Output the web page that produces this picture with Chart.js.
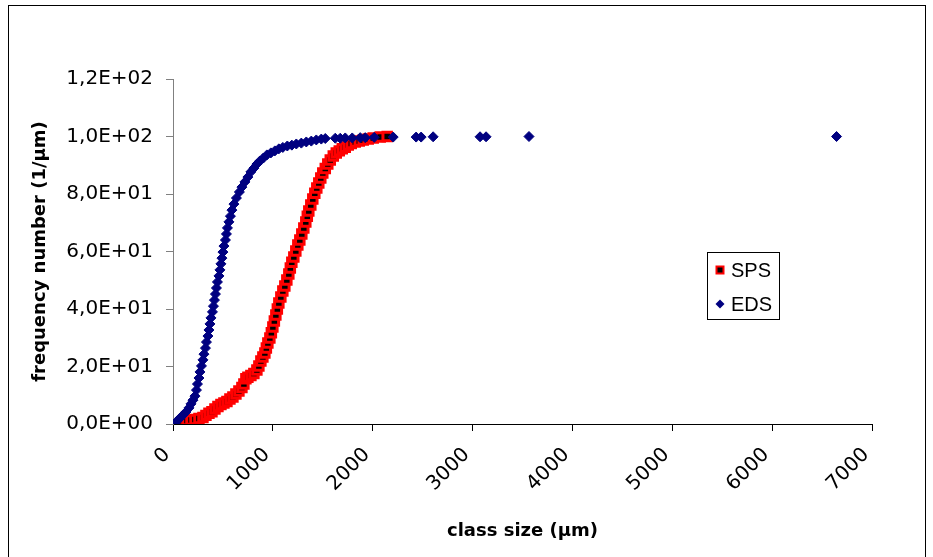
<!DOCTYPE html>
<html>
<head>
<meta charset="utf-8">
<script src="https://cdn.jsdelivr.net/npm/chart.js@4.4.1/dist/chart.umd.min.js"></script>
<style>
  html, body { margin: 0; padding: 0; background: #fff; }
  canvas { display: block; }
</style>
</head>
<body>
<canvas id="classSizeChart" width="933" height="557"></canvas>
<script>
// cumulative frequency
const spsX = [100, 140, 180, 220, 260, 300, 330, 360, 390, 420, 450, 480, 510, 540, 570, 600,
  630, 660, 690, 710, 730, 750, 780, 810, 840, 860, 880, 900, 920, 935, 950, 970, 985, 1000,
  1015, 1030, 1045, 1060, 1080, 1100, 1120, 1140, 1160, 1175, 1190, 1210, 1230, 1250, 1270,
  1290, 1310, 1330, 1345, 1360, 1380, 1400, 1420, 1440, 1460, 1480, 1500, 1525, 1550, 1575,
  1605, 1635, 1665, 1695, 1725, 1755, 1785, 1825, 1865, 1905, 1955, 2005, 2075, 2145];
const spsY = [1.0, 1.2, 1.4, 1.6, 1.9, 2.3, 3.0, 3.7, 4.3, 5.2, 6.1, 6.8, 7.3, 7.8, 8.7, 9.4,
  10.4, 11.5, 12.7, 13.9, 15.7, 16.3, 16.9, 17.6, 18.8, 20.2, 21.9, 23.3, 24.7, 26.4, 28.2, 29.9, 31.7, 33.7,
  35.8, 37.9, 40.0, 42.1, 44.2, 46.3, 48.0, 50.1, 52.2, 54.3, 56.3, 58.1, 60.2, 62.3, 64.0,
  66.1, 68.2, 70.3, 72.3, 74.1, 76.2, 78.3, 80.3, 82.1, 83.8, 85.6, 87.3, 88.9, 90.4, 91.8,
  93.2, 94.3, 95.0, 95.7, 96.3, 97.0, 97.6, 98.1, 98.4, 98.8, 99.1, 99.5, 99.8, 100];

const edsX = [10, 40, 70, 100, 130, 160, 180, 200, 220, 235, 245, 260, 270, 285, 300, 310, 325,
  335, 350, 360, 370, 380, 395, 405, 415, 425, 435, 445, 460, 470, 480, 490, 500, 510, 525,
  535, 545, 560, 575, 590, 610, 635, 665, 690, 720, 750, 780, 810, 840, 870, 905, 940, 980,
  1020, 1060, 1100, 1145, 1190, 1235, 1285, 1335, 1385, 1435, 1485, 1525,
  1625, 1675, 1725, 1795, 1875, 1925, 2015, 2205, 2435, 2485, 2605, 3075, 3135, 3565, 6645];
const edsY = [0, 1.0, 2.1, 3.1, 4.2, 5.6, 7.0, 8.3, 9.7, 11.8, 13.9, 16.0, 18.1, 20.2, 22.3, 24.3, 26.4,
  28.5, 30.6, 32.7, 34.8, 36.9, 39.0, 41.0, 43.1, 45.2, 47.3, 49.4, 51.5, 53.6, 55.7, 57.7, 59.8, 61.9, 64.0,
  66.1, 68.2, 70.3, 72.3, 74.4, 76.5, 78.6, 80.7, 82.4, 84.2, 85.9, 87.7, 89.0, 90.4, 91.5, 92.5, 93.6, 94.3,
  95.0, 95.7, 96.2, 96.7, 97.0, 97.4, 97.7, 98.1, 98.4, 98.8, 99.1, 99.3,
  99.4, 99.4, 99.5, 99.5, 99.6, 99.6, 99.7, 99.8, 99.8, 99.8, 99.9, 99.9, 99.9, 100, 100];

const xTicks = [0, 1000, 2000, 3000, 4000, 5000, 6000, 7000];
const yTicks = [0, 20, 40, 60, 80, 100, 120];

const toPoints = (xs, ys) => xs.map((x, i) => ({ x: x, y: ys[i] }));

// Excel style "1,2E+02"
function sciLabel(v) {
  if (v === 0) return '0,0E+00';
  const e = Math.floor(Math.log10(v) + 1e-9);
  const m = v / Math.pow(10, e);
  return m.toFixed(1).replace('.', ',') + 'E+' + String(e).padStart(2, '0');
}

const frame = {
  id: 'frame',
  beforeDraw(chart) {
    const ctx = chart.ctx;
    ctx.save();
    ctx.fillStyle = '#fff';
    ctx.fillRect(0, 0, chart.width, chart.height);
    ctx.strokeStyle = '#000';
    ctx.lineWidth = 1;
    ctx.strokeRect(8.5, 5.5, 917, 600);
    ctx.restore();
  }
};

const boxLegend = {
  id: 'boxLegend',
  afterDraw(chart) {
    const ctx = chart.ctx;
    const items = chart.data.datasets.slice().sort((a, b) => a.legendIndex - b.legendIndex);
    ctx.save();
    ctx.strokeStyle = '#000';
    ctx.lineWidth = 1;
    ctx.strokeRect(707.5, 252.5, 72, 67);
    ctx.font = '20px "Liberation Sans", Arial, sans-serif';
    ctx.textBaseline = 'middle';
    ctx.fillStyle = '#000';
    items.forEach((ds, i) => {
      const cx = 720, cy = 270 + i * 34;
      ctx.beginPath();
      if (ds.pointStyle === 'rect') {
        ctx.rect(cx - 3.5, cy - 3.5, 7, 7);
        ctx.fillStyle = ds.pointBackgroundColor;
        ctx.fill();
        ctx.lineWidth = 2;
        ctx.strokeStyle = ds.pointBorderColor;
        ctx.stroke();
      } else {
        ctx.moveTo(cx - 4.5, cy);
        ctx.lineTo(cx, cy - 4.5);
        ctx.lineTo(cx + 4.5, cy);
        ctx.lineTo(cx, cy + 4.5);
        ctx.closePath();
        ctx.fillStyle = ds.pointBackgroundColor;
        ctx.fill();
      }
      ctx.fillStyle = '#000';
      ctx.fillText(ds.label, 731, cy + 1);
    });
    ctx.restore();
  }
};

new Chart(document.getElementById('classSizeChart'), {
  type: 'scatter',
  data: {
    datasets: [
      {
        label: 'SPS',
        legendIndex: 0,
        order: 1,
        data: toPoints(spsX, spsY),
        pointStyle: 'rect',
        pointRadius: 6,
        pointBorderWidth: 3,
        pointBackgroundColor: '#000',
        pointBorderColor: '#ff0000'
      },
      {
        label: 'EDS',
        legendIndex: 1,
        order: 0,
        data: toPoints(edsX, edsY),
        pointStyle: 'rectRot',
        pointRadius: 5,
        pointBorderWidth: 1,
        pointBackgroundColor: '#000080',
        pointBorderColor: '#000080'
      }
    ]
  },
  options: {
    responsive: false,
    animation: false,
    devicePixelRatio: 1,
    layout: { padding: { top: 79, right: 61, bottom: 0, left: 0 } },
    plugins: {
      legend: { display: false },
      tooltip: { enabled: false }
    },
    scales: {
      x: {
        type: 'linear',
        min: 0,
        max: 7000,
        afterBuildTicks(scale) { scale.ticks = xTicks.map(v => ({ value: v })); },
        afterFit(scale) { scale.height = 133; },
        border: { color: '#000', width: 1 },
        grid: { drawOnChartArea: false, drawTicks: true, tickLength: 7, color: '#000' },
        ticks: {
          minRotation: 45,
          maxRotation: 45,
          padding: 12,
          labelOffset: -6,
          color: '#000',
          font: { family: '"DejaVu Sans", Verdana, sans-serif', size: 20 },
          callback: v => String(v)
        },
        title: {
          display: true,
          text: 'class size (µm)',
          color: '#000',
          font: { family: '"DejaVu Sans", Arial, sans-serif', size: 18, weight: 'bold' },
          padding: { top: 15, bottom: 15 }
        }
      },
      y: {
        type: 'linear',
        min: 0,
        max: 120,
        afterBuildTicks(scale) { scale.ticks = yTicks.map(v => ({ value: v })); },
        afterFit(scale) { scale.width = 173; },
        border: { color: '#808080', width: 1 },
        grid: { drawOnChartArea: false, drawTicks: true, tickLength: 7, color: '#808080' },
        ticks: {
          padding: 13,
          color: '#000',
          font: { family: '"DejaVu Sans", Verdana, sans-serif', size: 20 },
          callback: v => sciLabel(v)
        },
        title: {
          display: true,
          text: 'frequency number (1/µm)',
          color: '#000',
          font: { family: '"DejaVu Sans", Arial, sans-serif', size: 18, weight: 'bold' },
          padding: { top: 30, bottom: 30 }
        }
      }
    }
  },
  plugins: [frame, boxLegend]
});
</script>
</body>
</html>
